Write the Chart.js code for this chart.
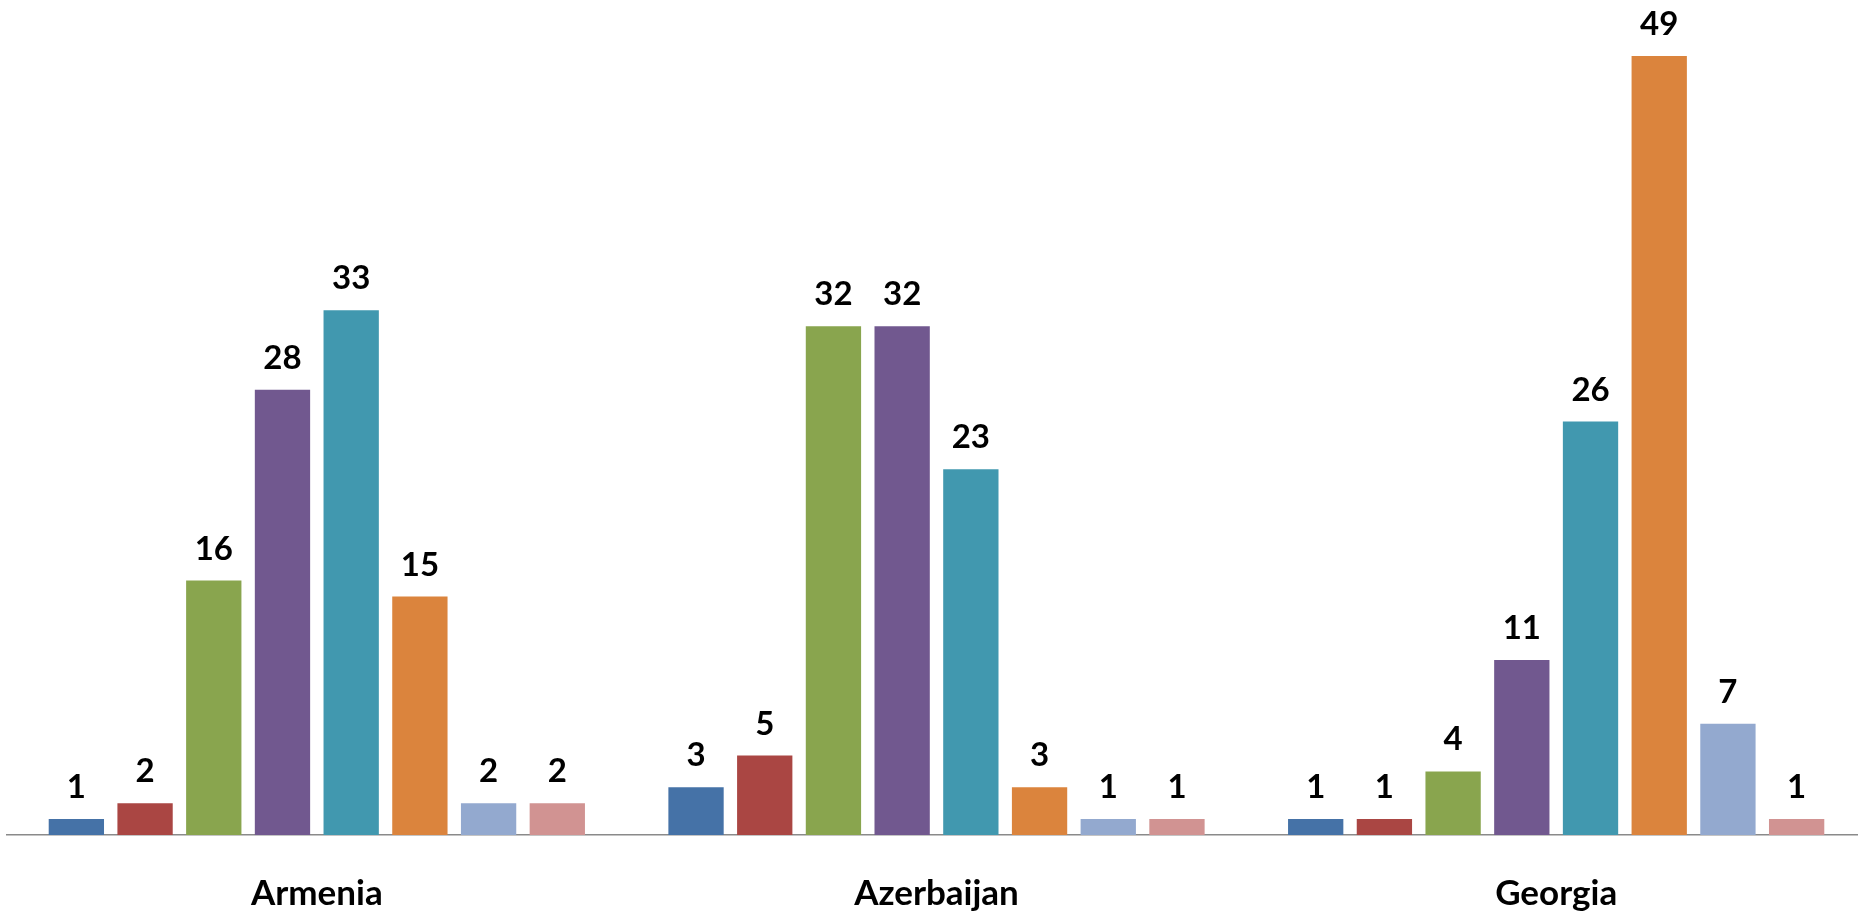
<!DOCTYPE html>
<html>
<head>
<meta charset="utf-8">
<script src="https://cdn.jsdelivr.net/npm/chart.js@4/dist/chart.umd.min.js"></script>
<style>
html,body{margin:0;padding:0;background:#fff;overflow:hidden;width:1858px;height:915px;}
#c{display:block;}
</style>
</head>
<body>
<canvas id="c" width="1866" height="915"></canvas>
<script>
const categories = ["Armenia", "Azerbaijan", "Georgia"];
const series1 = [1, 3, 1];
const series2 = [2, 5, 1];
const series3 = [16, 32, 4];
const series4 = [28, 32, 11];
const series5 = [33, 23, 26];
const series6 = [15, 3, 49];
const series7 = [2, 1, 7];
const series8 = [2, 1, 1];
const seriesNames = ["Series 1","Series 2","Series 3","Series 4","Series 5","Series 6","Series 7","Series 8"];
const colors = ["#4572A7","#AA4643","#89A54E","#71588F","#4198AF","#DB843D","#93A9CF","#D19392"];
const allSeries = [series1,series2,series3,series4,series5,series6,series7,series8];

const FONT = "Lato, 'Open Sans', sans-serif";

const labelPlugin = {
  id: 'barLabels',
  afterDatasetsDraw(chart) {
    const ctx = chart.ctx;
    ctx.save();
    ctx.font = "bold 33px " + FONT;
    ctx.fillStyle = "#000";
    ctx.textAlign = "center";
    ctx.textBaseline = "alphabetic";
    chart.data.datasets.forEach((ds, i) => {
      const meta = chart.getDatasetMeta(i);
      meta.data.forEach((bar, j) => {
        ctx.fillText(String(ds.data[j]), bar.x, bar.y - 21);
      });
    });
    ctx.restore();
  }
};

new Chart(document.getElementById('c'), {
  type: 'bar',
  data: {
    labels: categories,
    datasets: allSeries.map((d, i) => ({
      label: seriesNames[i],
      data: d,
      backgroundColor: colors[i],
      borderWidth: 0,
      categoryPercentage: 0.887,
      barPercentage: 0.805
    }))
  },
  options: {
    responsive: false,
    devicePixelRatio: 1,
    animation: false,
    layout: { padding: { left: 7, right: 0, top: 40, bottom: 0 } },
    plugins: { legend: { display: false }, tooltip: { enabled: false } },
    scales: {
      x: {
        grid: { display: false, drawTicks: false },
        border: { display: true, color: "#8a8a8a", width: 1.5 },
        ticks: { color: "#000", padding: 38, font: { family: FONT, size: 35, weight: 'bold' } },
        afterFit(scale) { scale.height = 80; }
      },
      y: {
        display: false,
        min: 0,
        max: 50
      }
    }
  },
  plugins: [labelPlugin]
});
</script>
</body>
</html>
